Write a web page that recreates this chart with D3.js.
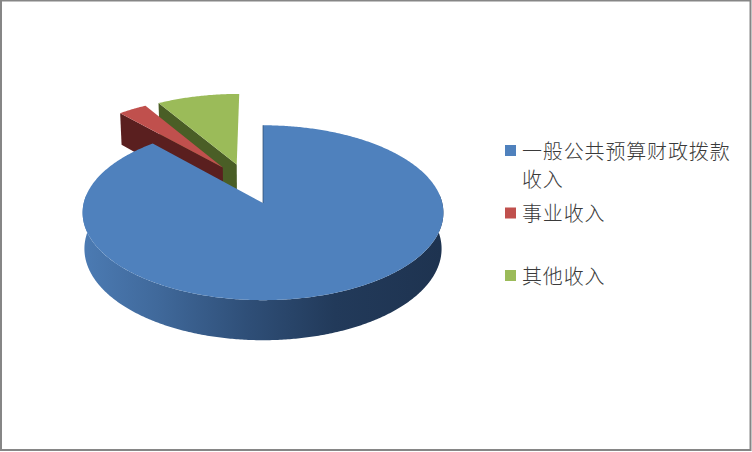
<!DOCTYPE html>
<html>
<head>
<meta charset="utf-8">
<script src="https://cdn.jsdelivr.net/npm/d3@7"></script>
<style>
html,body{margin:0;padding:0;background:#fff;overflow:hidden}
svg{display:block}
</style>
</head>
<body>
<svg id="chart" width="752" height="452"></svg>
<script>
const categories = ["一般公共预算财政拨款收入", "事业收入", "其他收入"];
const legendLines = [["一般公共预算财政拨款", "收入"], ["事业收入"], ["其他收入"]];
const values = [88.4, 3.0, 8.6];
const topColors = ["#4f81bd", "#c0504d", "#9bbb59"];
const wallColors = ["#2a4669", "#5a1f1f", "#4a5e26"];

const svg = d3.select("#chart");
const W = 752, H = 452;

// Frame
svg.append("rect").attr("x", 1).attr("y", 0.5).attr("width", W - 2.5).attr("height", H - 2.5)
  .attr("fill", "#fff").attr("stroke", "#868686").attr("stroke-width", 2);

// Perspective projection of the unit pie disc to the screen
const cam = {x0: 263, y0: 203, cx: 177.5, cy: 85.5, persp: 0.11, depth: 35.6, shrink: 0.99};
function project(u, v, d) {
  const s = 1 / (1 + cam.persp * v);
  let x = cam.x0 + u * cam.cx * s;
  const y = cam.y0 - v * cam.cy * s + d * cam.depth * s;
  if (d) x = cam.x0 + (x - cam.x0) * cam.shrink;
  return [x, y];
}

const explode = 0.25, radius = 1.01;
const slices = d3.pie().sort(null).startAngle(0).endAngle(2 * Math.PI)(values);
// Pie axis: placed so the exploded first slice has its apex at the projection origin
const firstMid = (slices[0].startAngle + slices[0].endAngle) / 2;
const axis = [-explode * Math.sin(firstMid), -explode * Math.cos(firstMid)];

function apex(s) {
  const m = (s.startAngle + s.endAngle) / 2;
  return [axis[0] + explode * Math.sin(m), axis[1] + explode * Math.cos(m)];
}
function rimPoint(s, t) {
  const a = apex(s);
  return [a[0] + radius * Math.sin(t), a[1] + radius * Math.cos(t)];
}
const line = d3.line();
function arcSamples(t0, t1) {
  const n = Math.max(2, Math.ceil(Math.abs(t1 - t0) / 0.01));
  return d3.range(n + 1).map(i => t0 + (t1 - t0) * i / n);
}
function topPath(s) {
  const a = apex(s);
  const pts = [project(a[0], a[1], 0)].concat(
    arcSamples(s.startAngle, s.endAngle).map(t => { const p = rimPoint(s, t); return project(p[0], p[1], 0); }));
  return line(pts) + "Z";
}
function sideWall(s, t) {
  const a = apex(s), p = rimPoint(s, t);
  return line([project(a[0], a[1], 0), project(p[0], p[1], 0), project(p[0], p[1], 1), project(a[0], a[1], 1)]) + "Z";
}
function rimWall(s, t0, t1) {
  const ts = arcSamples(t0, t1);
  const top = ts.map(t => { const p = rimPoint(s, t); return project(p[0], p[1], 0); });
  const bot = ts.slice().reverse().map(t => { const p = rimPoint(s, t); return project(p[0], p[1], 1); });
  return line(top.concat(bot)) + "Z";
}

// Gradient for the front rim
const defs = svg.append("defs");
const grad = defs.append("linearGradient").attr("id", "rimGrad")
  .attr("gradientUnits", "userSpaceOnUse").attr("x1", 86).attr("x2", 441).attr("y1", 0).attr("y2", 0);
[[0, "#4b7ab2"], [0.2, "#40699b"], [0.45, "#2f4f78"], [0.7, "#223a5a"], [1, "#1e3350"]]
  .forEach(d => grad.append("stop").attr("offset", d[0]).attr("stop-color", d[1]));

const g = svg.append("g");

// Back slices first: green, then red, each with its left side wall
[2, 1].forEach(i => {
  const s = slices[i];
  g.append("path").attr("d", sideWall(s, s.startAngle)).attr("fill", wallColors[i]);
  g.append("path").attr("d", topPath(s)).attr("fill", topColors[i]);
});

// Main slice
const main = slices[0];
g.append("path").attr("d", rimWall(main, Math.PI / 2 - 0.1, 3 * Math.PI / 2 + 0.1)).attr("fill", "url(#rimGrad)");
g.append("path").attr("d", topPath(main)).attr("fill", topColors[0]);
const a0 = apex(main), e0 = rimPoint(main, main.startAngle);
g.append("path").attr("d", line([project(a0[0], a0[1], 0), project(e0[0], e0[1], 0)]))
  .attr("stroke", wallColors[0]).attr("stroke-width", 0.7).attr("fill", "none");

// Legend
const legendY = d3.scalePoint().domain(categories).range([150, 275]);
const legendFont = "'Noto Sans CJK SC','Noto Sans CJK TC',sans-serif";
const legend = svg.append("g").selectAll("g").data(categories).join("g")
  .attr("transform", d => `translate(505,${legendY(d)})`);
legend.append("rect").attr("x", 0).attr("y", -5).attr("width", 11).attr("height", 11)
  .attr("fill", (d, i) => topColors[i]);
legend.each(function (d, i) {
  d3.select(this).selectAll("text").data(legendLines[i]).join("text")
    .attr("x", 17).attr("y", (l, j) => j * 28)
    .attr("dominant-baseline", "central")
    .attr("font-family", legendFont)
    .attr("font-size", 20).attr("font-weight", 300)
    .attr("letter-spacing", 0.85)
    .attr("fill", "#3a3a3a")
    .text(l => l);
});
</script>
</body>
</html>
